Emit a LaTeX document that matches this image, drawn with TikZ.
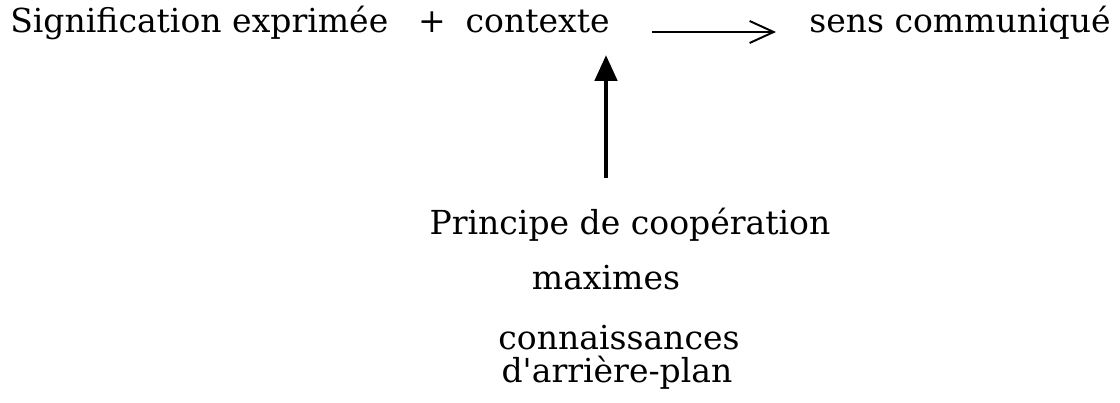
\documentclass[tikz,border=0pt]{standalone}
\usepackage{fontspec}
\setmainfont{DejaVu Serif}
\usetikzlibrary{arrows.meta}
\begin{document}
\begin{tikzpicture}[txt/.style={anchor=base,inner sep=0pt,font=\fontsize{23.5}{28}\selectfont}]
    \useasboundingbox (0,0) rectangle (28,10.075);
    \node[txt,anchor=base west] (sig) at (0.25,9.25) {Signification exprimée};
    \node[txt] (plus) at (10.8,9.25) {+};
    \node[txt] (ctx) at (13.44,9.25) {contexte};
    \node[txt] (sens) at (24.0,9.25) {sens communiqué};
    \coordinate (hl) at (16.3,9.275);
    \coordinate (hr) at (19.4,9.275);
    \draw[line width=1.4pt,-{Straight Barb[length=0.6cm,width=0.55cm,line width=1.4pt]}] (hl) -- (hr);
    \node[txt] (coop) at (15.75,4.2) {Principe de coopération};
    \node[txt] (max) at (15.15,2.825) {maximes};
    \node[txt] (conn) at (15.475,1.325) {connaissances};
    \node[txt] (arr) at (15.425,0.5) {d\textquotesingle arrière-plan};
    \coordinate (vb) at (15.15,5.625);
    \coordinate (vt) at (15.15,8.7);
    \draw[line width=3.5pt,-{Triangle[length=0.65cm,width=0.55cm]}] (vb) -- (vt);
\end{tikzpicture}
\end{document}
